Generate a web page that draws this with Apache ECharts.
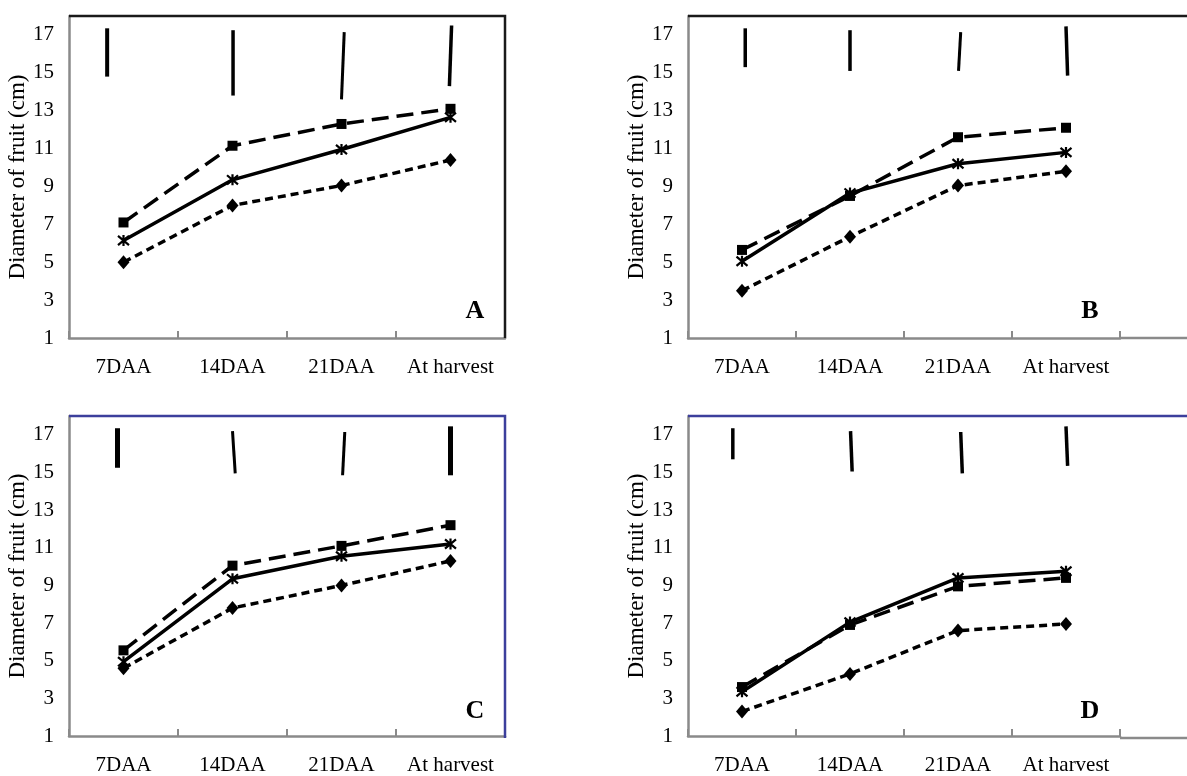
<!DOCTYPE html>
<html>
<head>
<meta charset="utf-8">
<script src="https://cdn.jsdelivr.net/npm/echarts@6/dist/echarts.min.js"></script>
<style>
html,body{margin:0;padding:0;background:#fff;}
#chart{width:1187px;height:776px;}
</style>
</head>
<body>
<div id="chart"></div>
<script>
// ---- data ----
const categories = ['7DAA', '14DAA', '21DAA', 'At harvest'];
const yMin = 1, yMax = 18, yStep = 2;
const yAxisName = 'Diameter of fruit (cm)';
const panelLetters = ['A', 'B', 'C', 'D'];

// square marker, long-dashed line
const squareA = [7.1, 11.15, 12.3, 13.1];
const squareB = [5.65, 8.5, 11.6, 12.1];
const squareC = [5.55, 10.05, 11.1, 12.2];
const squareD = [3.6, 6.9, 8.95, 9.4];
// asterisk marker, solid line
const starA = [6.15, 9.35, 10.95, 12.65];
const starB = [5.05, 8.65, 10.2, 10.8];
const starC = [4.95, 9.35, 10.55, 11.2];
const starD = [3.35, 7.05, 9.4, 9.75];
// diamond marker, short-dashed line
const diamondA = [5.0, 8.0, 9.05, 10.4];
const diamondB = [3.5, 6.35, 9.05, 9.8];
const diamondC = [4.6, 7.8, 9.0, 10.3];
const diamondD = [2.3, 4.3, 6.6, 6.95];
// LSD bars: [x at top, top value, x at bottom, bottom value] (x in category units 0..4)
const lsdA = [[0.35, 17.35, 0.35, 14.8], [1.505, 17.25, 1.505, 13.8], [2.525, 17.15, 2.5, 13.6], [3.51, 17.5, 3.49, 14.3]];
const lsdB = [[0.53, 17.35, 0.53, 15.3], [1.5, 17.25, 1.5, 15.1], [2.525, 17.15, 2.505, 15.1], [3.5, 17.45, 3.515, 14.85]];
const lsdC = [[0.445, 17.35, 0.445, 15.25], [1.5, 17.2, 1.525, 14.95], [2.53, 17.15, 2.51, 14.85], [3.5, 17.45, 3.5, 14.85]];
const lsdD = [[0.415, 17.35, 0.415, 15.7], [1.505, 17.2, 1.52, 15.05], [2.525, 17.15, 2.54, 14.95], [3.5, 17.45, 3.515, 15.35]];

// ---- styles / layout ----
const lsdWidths = [[4, 3.5, 3, 3.5], [3.5, 3.5, 3, 3.5], [5, 3, 3, 5], [3.5, 3.5, 3.5, 3.5]];
const panels = [
  {sq: squareA, st: starA, di: diamondA, lsd: lsdA, grid: {left: 69, top: 16, width: 436, height: 322}, border: '#1a1a1a', open: false},
  {sq: squareB, st: starB, di: diamondB, lsd: lsdB, grid: {left: 688, top: 16, width: 432, height: 322}, border: '#1a1a1a', open: true},
  {sq: squareC, st: starC, di: diamondC, lsd: lsdC, grid: {left: 69, top: 416, width: 436, height: 322}, border: '#3c3f9c', open: false},
  {sq: squareD, st: starD, di: diamondD, lsd: lsdD, grid: {left: 688, top: 416, width: 432, height: 322}, border: '#3c3f9c', open: true}
];
const FONT = "'Liberation Serif', 'Times New Roman', serif";
const AXIS_GREY = '#8a8a8a';
const starPath = 'path://M0,0L10,10M10,0L0,10M5,-1L5,11';

const grids = [], xAxes = [], yAxes = [], series = [], graphics = [];
panels.forEach((p, i) => {
  grids.push(Object.assign({containLabel: false}, p.grid));
  xAxes.push({
    type: 'category', gridIndex: i, data: categories, boundaryGap: true,
    axisLine: {show: true, lineStyle: {color: AXIS_GREY, width: 2.5}},
    axisTick: {show: true, inside: true, length: 7, interval: 0, lineStyle: {color: AXIS_GREY, width: 2}},
    axisLabel: {color: '#000', fontFamily: FONT, fontSize: 21, margin: 19, interval: 0, hideOverlap: false},
    splitLine: {show: false}
  });
  xAxes.push({type: 'value', gridIndex: i, min: 0, max: 4, show: false});
  yAxes.push({
    type: 'value', gridIndex: i, min: yMin, max: yMax, interval: yStep,
    name: yAxisName, nameLocation: 'middle', nameGap: 40, nameRotate: 90,
    nameTextStyle: {color: '#000', fontFamily: FONT, fontSize: 23},
    axisLine: {show: true, lineStyle: {color: AXIS_GREY, width: 2.5}},
    axisTick: {show: false},
    axisLabel: {color: '#000', fontFamily: FONT, fontSize: 21, margin: 15,
      formatter: v => (v === yMax ? '' : String(v))},
    splitLine: {show: false}
  });
  const base = {type: 'line', xAxisIndex: 2 * i, yAxisIndex: i, animation: false, z: 3};
  series.push(Object.assign({}, base, {
    name: 'square' + i, data: p.sq, symbol: 'rect', symbolSize: 10,
    itemStyle: {color: '#000'},
    lineStyle: {color: '#000', width: 3.5, type: [17, 8]}
  }));
  series.push(Object.assign({}, base, {
    name: 'star' + i, data: p.st, symbol: starPath, symbolSize: 11,
    itemStyle: {color: 'none', borderColor: '#000', borderWidth: 2.2},
    lineStyle: {color: '#000', width: 3.5, type: 'solid'}
  }));
  series.push(Object.assign({}, base, {
    name: 'diamond' + i, data: p.di, symbol: 'diamond', symbolSize: [12, 14],
    itemStyle: {color: '#000'},
    lineStyle: {color: '#000', width: 3.5, type: [8, 5]}
  }));
  const widths = lsdWidths[i];
  series.push({
    type: 'custom', xAxisIndex: 2 * i + 1, yAxisIndex: i, animation: false, z: 4,
    data: p.lsd, encode: {x: [0, 2], y: [1, 3]},
    renderItem: (params, api) => {
      const a = api.coord([api.value(0), api.value(1)]);
      const b = api.coord([api.value(2), api.value(3)]);
      return {type: 'line', shape: {x1: a[0], y1: a[1], x2: b[0], y2: b[1]},
        style: {stroke: '#000', lineWidth: widths[params.dataIndex], lineCap: 'butt'}};
    }
  });
  // frame: top and right border (panels B/D run off the right edge)
  const g = p.grid, L = g.left, T = g.top, R = g.left + g.width, B = g.top + g.height;
  if (p.open) {
    graphics.push({type: 'line', shape: {x1: L, y1: T, x2: 1187, y2: T}, style: {stroke: p.border, lineWidth: 2.5}, z: 10});
    graphics.push({type: 'line', shape: {x1: R, y1: B, x2: 1187, y2: B}, style: {stroke: AXIS_GREY, lineWidth: 2.5}, z: 10});
  } else {
    graphics.push({type: 'polyline', shape: {points: [[L, T], [R, T], [R, B]]}, style: {stroke: p.border, lineWidth: 2.5, fill: null}, z: 10});
  }
  graphics.push({type: 'text', x: R - 30, y: B - 27, style: {text: panelLetters[i], font: "bold 26px " + FONT, fill: '#000', align: 'center', verticalAlign: 'middle'}, z: 10});
});

const chart = echarts.init(document.getElementById('chart'), null, {renderer: 'canvas'});
chart.setOption({
  backgroundColor: '#fff',
  animation: false,
  grid: grids, xAxis: xAxes, yAxis: yAxes, series: series, graphic: graphics
});
</script>
</body>
</html>
